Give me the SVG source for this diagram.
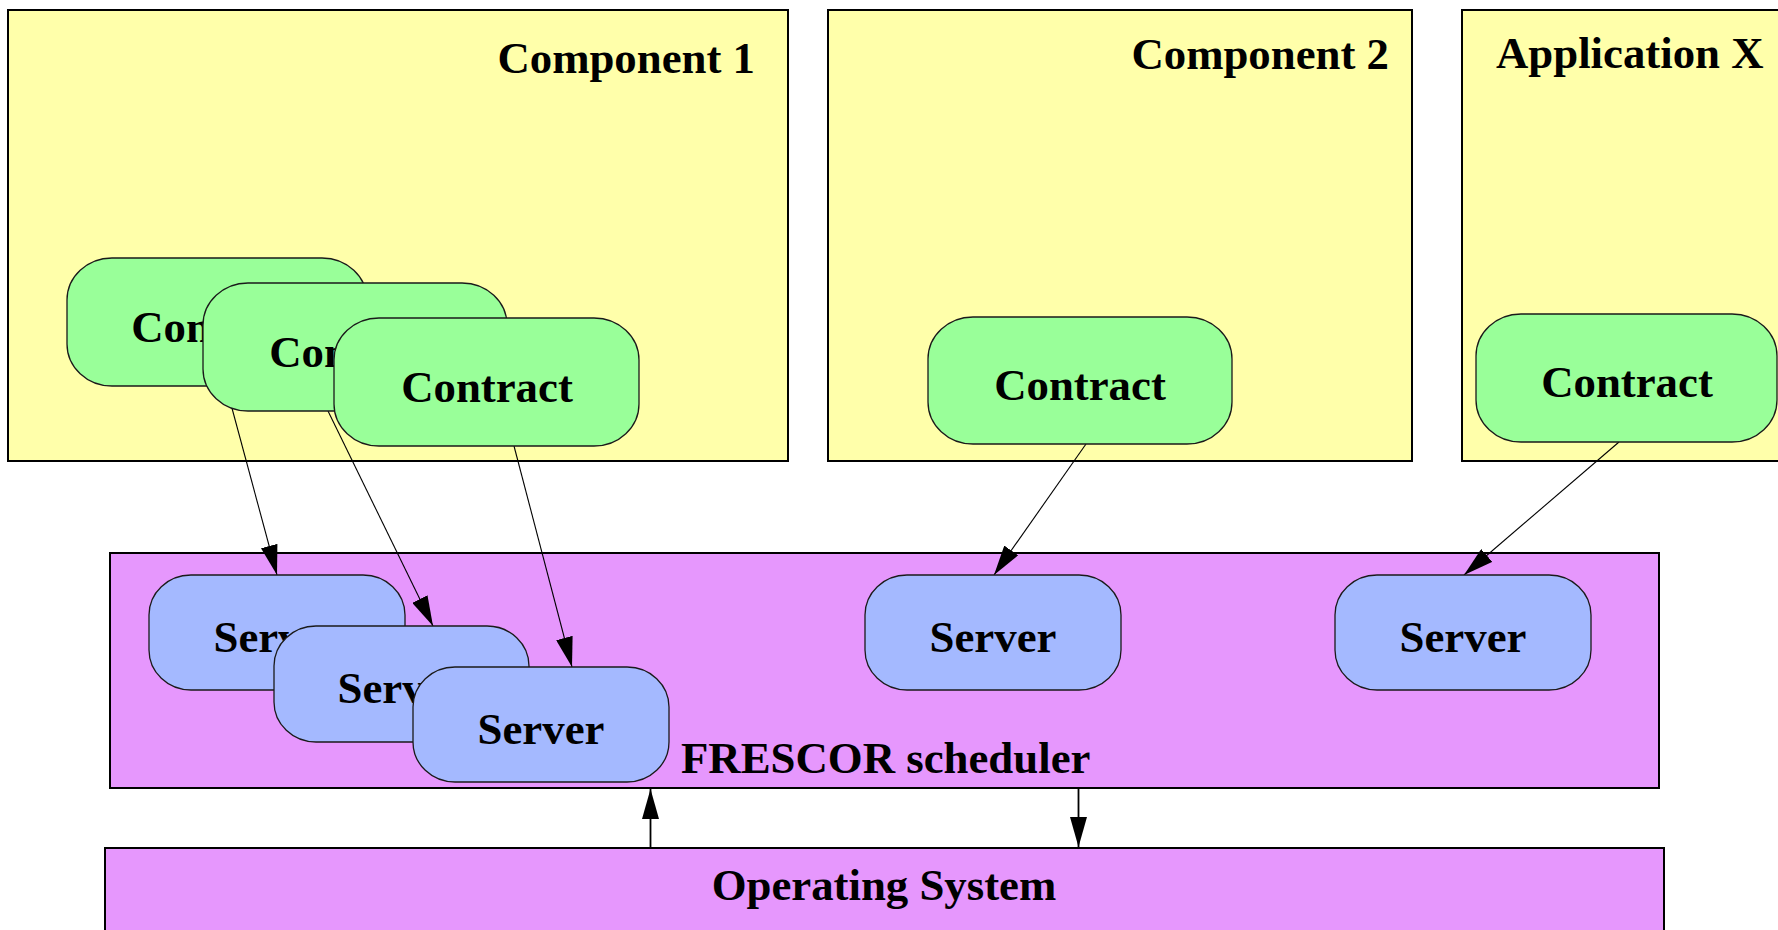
<svg xmlns="http://www.w3.org/2000/svg" width="1778" height="930" viewBox="0 0 1778 930">
  <style>
    .comp { fill: #ffffaa; stroke: #000; stroke-width: 2; }
    .sched { fill: #e697fd; stroke: #000; stroke-width: 2; }
    .contract { fill: #99ff99; stroke: #1a1a1a; stroke-width: 1.3; }
    .server { fill: #a4b9ff; stroke: #1a1a1a; stroke-width: 1.3; }
    .lbl { font-family: "Liberation Serif", "Times New Roman", serif; font-weight: bold; font-size: 44.8px; fill: #000; }
    .mid { text-anchor: middle; }
    .edge { stroke: #000; stroke-width: 1.1; fill: none; marker-end: url(#arrow); }
    .edge2 { stroke: #000; stroke-width: 1.8; fill: none; marker-end: url(#arrow); }
  </style>
  <defs>
    <marker id="arrow" markerUnits="userSpaceOnUse" markerWidth="30" markerHeight="17" refX="30" refY="8.5" orient="auto">
      <path d="M0,0 L30,8.5 L0,17 Z" fill="#000"/>
    </marker>
  </defs>
  <rect width="1778" height="930" fill="#fff"/>

  <!-- containers -->
  <g id="component1">
    <rect class="comp" x="8" y="10" width="780" height="451"/>
    <text class="lbl" x="755" y="73" text-anchor="end">Component 1</text>
  </g>
  <g id="component2">
    <rect class="comp" x="828" y="10" width="584" height="451"/>
    <text class="lbl" x="1389" y="69" text-anchor="end">Component 2</text>
  </g>
  <g id="applicationX">
    <rect class="comp" x="1462" y="10" width="340" height="451"/>
    <text class="lbl" x="1496" y="68">Application X</text>
  </g>
  <g id="scheduler">
    <rect class="sched" x="110" y="553" width="1549" height="235"/>
    <text class="lbl" x="681" y="773">FRESCOR scheduler</text>
  </g>
  <g id="os">
    <rect class="sched" x="105" y="848" width="1559" height="100"/>
    <text class="lbl mid" x="884" y="900">Operating System</text>
  </g>

  <!-- connectors -->
  <g id="connectors">
    <line class="edge" x1="226" y1="386" x2="277" y2="575"/>
    <line class="edge" x1="328" y1="411" x2="433" y2="626"/>
    <line class="edge" x1="514" y1="446" x2="572" y2="667"/>
    <line class="edge" x1="1086" y1="444" x2="994" y2="575"/>
    <line class="edge" x1="1619" y1="442" x2="1464" y2="575"/>
    <line class="edge2" x1="650.5" y1="848" x2="650.5" y2="789"/>
    <line class="edge2" x1="1078.5" y1="788" x2="1078.5" y2="847"/>
  </g>

  <!-- contracts -->
  <g id="contract1a">
    <rect class="contract" x="67" y="258" width="300" height="128" rx="45" ry="42"/>
    <text class="lbl mid" x="217" y="342">Contract</text>
  </g>
  <g id="contract1b">
    <rect class="contract" x="203" y="283" width="304" height="128" rx="45" ry="42"/>
    <text class="lbl mid" x="355" y="367">Contract</text>
  </g>
  <g id="contract1c">
    <rect class="contract" x="334" y="318" width="305" height="128" rx="45" ry="42"/>
    <text class="lbl mid" x="487" y="402">Contract</text>
  </g>
  <g id="contract2">
    <rect class="contract" x="928" y="317" width="304" height="127" rx="45" ry="42"/>
    <text class="lbl mid" x="1080" y="400">Contract</text>
  </g>
  <g id="contractX">
    <rect class="contract" x="1476" y="314" width="301" height="128" rx="45" ry="42"/>
    <text class="lbl mid" x="1627" y="397">Contract</text>
  </g>

  <!-- servers -->
  <g id="server1a">
    <rect class="server" x="149" y="575" width="256" height="115" rx="42" ry="40"/>
    <text class="lbl mid" x="277" y="652">Server</text>
  </g>
  <g id="server1b">
    <rect class="server" x="274" y="626" width="255" height="116" rx="42" ry="40"/>
    <text class="lbl mid" x="401" y="703">Server</text>
  </g>
  <g id="server1c">
    <rect class="server" x="413" y="667" width="256" height="115" rx="42" ry="40"/>
    <text class="lbl mid" x="541" y="744">Server</text>
  </g>
  <g id="server2">
    <rect class="server" x="865" y="575" width="256" height="115" rx="42" ry="40"/>
    <text class="lbl mid" x="993" y="652">Server</text>
  </g>
  <g id="serverX">
    <rect class="server" x="1335" y="575" width="256" height="115" rx="42" ry="40"/>
    <text class="lbl mid" x="1463" y="652">Server</text>
  </g>
</svg>
